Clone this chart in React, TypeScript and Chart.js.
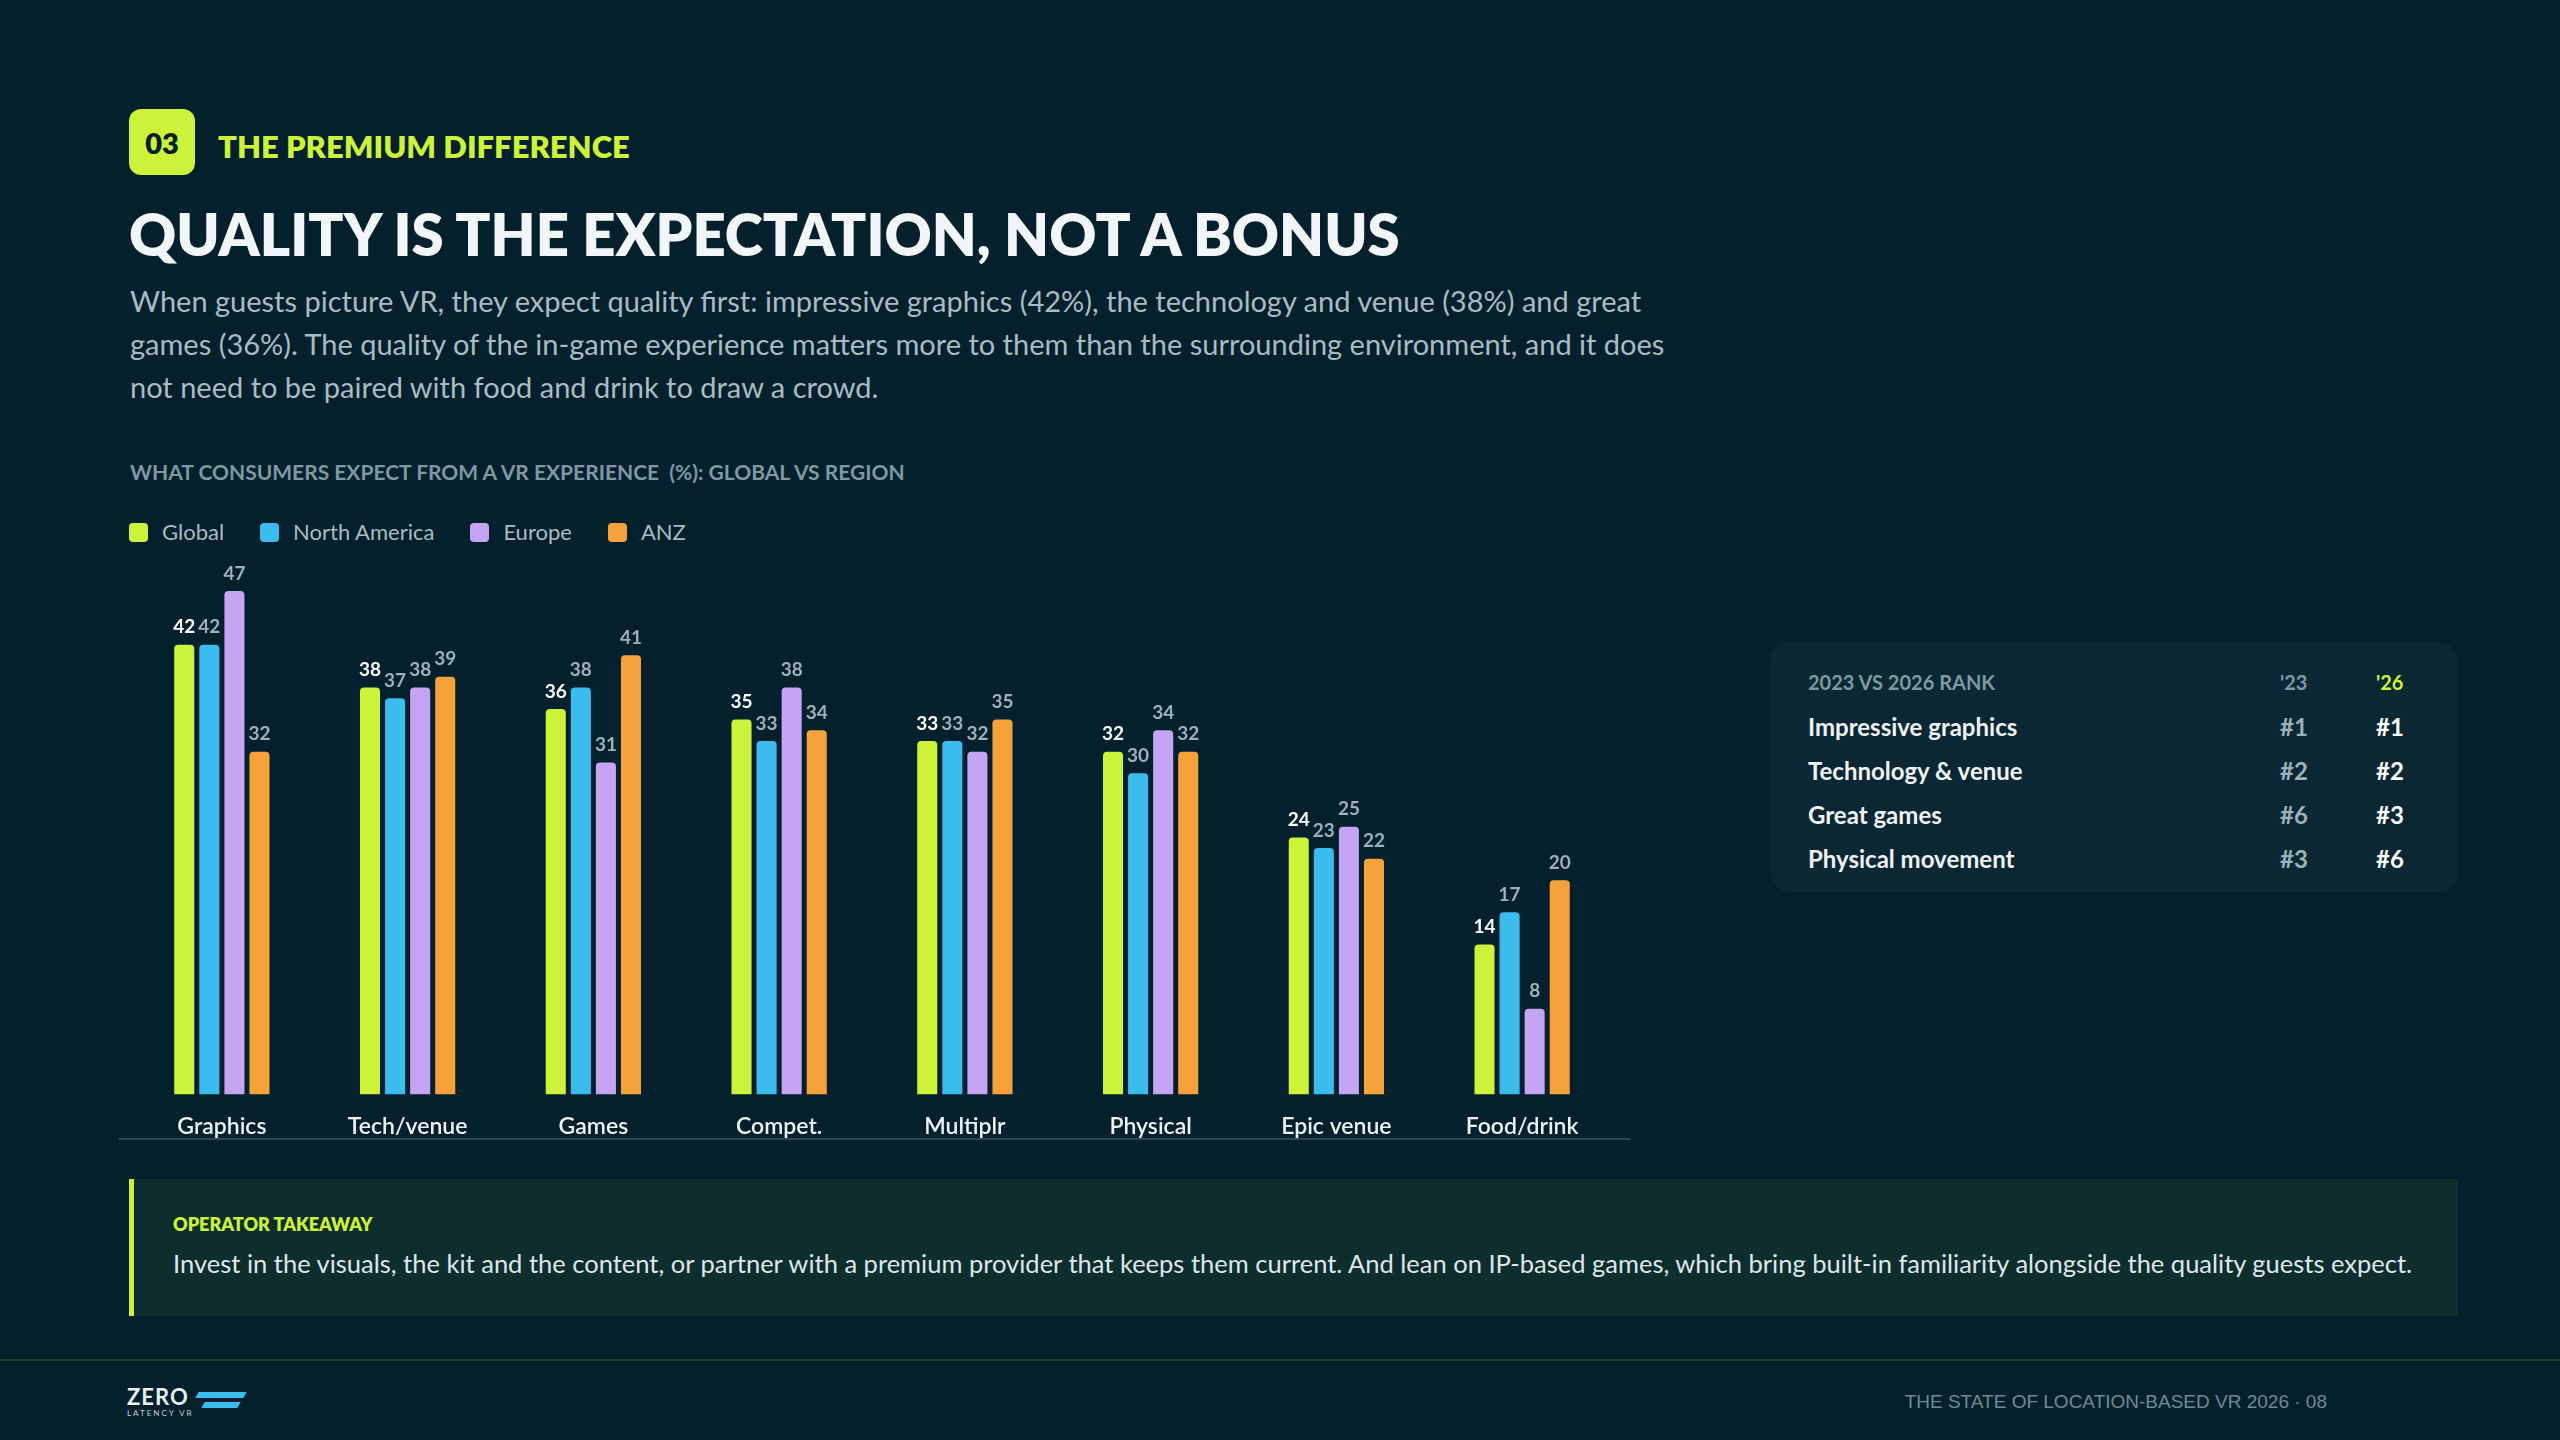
import React, { useEffect, useRef } from "react";
import { Chart, registerables } from "chart.js";
Chart.register(...registerables);

const categories = ["Graphics", "Tech/venue", "Games", "Compet.", "Multiplr", "Physical", "Epic venue", "Food/drink"];
const seriesNames = ["Global", "North America", "Europe", "ANZ"];
const globalVals = [42, 38, 36, 35, 33, 32, 24, 14];
const naVals = [42, 37, 38, 33, 33, 30, 23, 17];
const europeVals = [47, 38, 31, 38, 32, 34, 25, 8];
const anzVals = [32, 39, 41, 34, 35, 32, 22, 20];
const colors = ["#ccf23a", "#3bbcef", "#c5a4f4", "#f5a23b"];
const rankRows = ["Impressive graphics", "Technology & venue", "Great games", "Physical movement"];
const rank23 = ["#1", "#2", "#6", "#3"];
const rank26 = ["#1", "#2", "#3", "#6"];

const FONT = "Lato, 'Noto Sans', sans-serif";

const labelPlugin = {
  id: "vals",
  afterDatasetsDraw(chart: any) {
    const ctx = chart.ctx;
    ctx.save();
    ctx.font = `bold 19px ${FONT}`;
    ctx.textAlign = "center";
    ctx.textBaseline = "bottom";
    chart.data.datasets.forEach((ds: any, i: number) => {
      const meta = chart.getDatasetMeta(i);
      meta.data.forEach((bar: any, j: number) => {
        ctx.fillStyle = i === 0 ? "#ffffff" : "#9db1b9";
        ctx.fillText(String(ds.data[j]), bar.x, bar.y - 8);
      });
    });
    ctx.restore();
  },
};

export default function App() {
  const ref = useRef<HTMLCanvasElement>(null);
  useEffect(() => {
    const vals = [globalVals, naVals, europeVals, anzVals];
    const chart = new Chart(ref.current!, {
      type: "bar",
      data: {
        labels: categories,
        datasets: seriesNames.map((n, i) => ({
          label: n,
          data: vals[i],
          backgroundColor: colors[i],
          borderRadius: { topLeft: 4, topRight: 4 },
          borderSkipped: "bottom",
          barPercentage: 0.8,
          categoryPercentage: 0.54,
        })),
      },
      options: {
        animation: false,
        responsive: false,
        maintainAspectRatio: false,
        layout: { padding: { top: 29, left: 0, right: 0, bottom: 0 } },
        plugins: { legend: { display: false }, tooltip: { enabled: false } },
        scales: {
          x: {
            grid: { display: false },
            border: { display: false },
            ticks: { color: "#eef3f5", font: { family: FONT, size: 23, weight: 600 }, padding: 10 },
          },
          y: { display: false, min: 0, max: 50 },
        },
      },
      plugins: [labelPlugin],
    });
    return () => chart.destroy();
  }, []);

  const abs = (s: React.CSSProperties): React.CSSProperties => ({ position: "absolute", ...s });
  return (
    <div style={{ position: "absolute", left: 0, top: 0, width: 2560, height: 1440, background: "#03202c", fontFamily: FONT, overflow: "hidden" }}>
      <div style={abs({ left: 129, top: 109, width: 66, height: 66, background: "#ccf23a", borderRadius: 12, color: "#03202c", fontWeight: 800, fontSize: 29, display: "flex", alignItems: "center", justifyContent: "center" })}>03</div>
      <div style={abs({ left: 218, top: 125, color: "#ccf23a", fontWeight: 800, fontSize: 31, lineHeight: "42px" })}>THE PREMIUM DIFFERENCE</div>
      <div style={abs({ left: 129, top: 197, color: "#f2f6f8", fontWeight: 800, fontSize: 58, lineHeight: "74px" })}>QUALITY IS THE EXPECTATION, NOT A BONUS</div>
      <div style={abs({ left: 130, top: 279, whiteSpace: "nowrap", color: "#a9bcc3", fontSize: 29, lineHeight: "43px" })}>
        When guests picture VR, they expect quality first: impressive graphics (42%), the technology and venue (38%) and great<br />
        games (36%). The quality of the in-game experience matters more to them than the surrounding environment, and it does<br />
        not need to be paired with food and drink to draw a crowd.
      </div>
      <div style={abs({ left: 130, top: 459, color: "#7f98a1", fontWeight: 700, fontSize: 21, lineHeight: "26px" })}>WHAT CONSUMERS EXPECT FROM A VR EXPERIENCE&nbsp; (%): GLOBAL VS REGION</div>
      <div style={abs({ left: 129, top: 519, display: "flex", gap: 36, color: "#a9bcc3", fontSize: 22, lineHeight: "26px" })}>
        {seriesNames.map((n, i) => (
          <div key={n} style={{ display: "flex", alignItems: "center", gap: 14 }}>
            <span style={{ width: 19, height: 19, borderRadius: 4, background: colors[i], display: "inline-block" }} />
            {n}
          </div>
        ))}
      </div>
      <canvas ref={ref} width={1486} height={620} style={abs({ left: 129, top: 530, width: 1486, height: 620 })} />
      <div style={abs({ left: 119, top: 1138, width: 1512, height: 2, background: "#2d4650" })} />

      <div style={abs({ left: 1770, top: 642, width: 688, height: 250, background: "#0a2733", borderRadius: 20 })}>
        <div style={abs({ left: 38, top: 28, color: "#7f98a1", fontWeight: 700, fontSize: 20 })}>2023 VS 2026 RANK</div>
        <div style={abs({ left: 510, top: 28, color: "#7f98a1", fontWeight: 700, fontSize: 20 })}>'23</div>
        <div style={abs({ left: 606, top: 28, color: "#ccf23a", fontWeight: 700, fontSize: 20 })}>'26</div>
        {rankRows.map((r, i) => (
          <React.Fragment key={r}>
            <div style={abs({ left: 38, top: 70 + i * 44, color: "#eef3f5", fontWeight: 700, fontSize: 24 })}>{r}</div>
            <div style={abs({ left: 510, top: 70 + i * 44, color: "#9db1b9", fontWeight: 700, fontSize: 24 })}>{rank23[i]}</div>
            <div style={abs({ left: 606, top: 70 + i * 44, color: "#ffffff", fontWeight: 700, fontSize: 24 })}>{rank26[i]}</div>
          </React.Fragment>
        ))}
      </div>

      <div style={abs({ left: 129, top: 1179, width: 2329, height: 137, background: "#0e2d2d", borderLeft: "5px solid #ccf23a", boxSizing: "border-box" })}>
        <div style={abs({ left: 39, top: 34, color: "#ccf23a", fontWeight: 800, fontSize: 18 })}>OPERATOR TAKEAWAY</div>
        <div style={abs({ left: 39, top: 69, color: "#dfe7ea", fontSize: 25.5, whiteSpace: "nowrap" })}>Invest in the visuals, the kit and the content, or partner with a premium provider that keeps them current. And lean on IP-based games, which bring built-in familiarity alongside the quality guests expect.</div>
      </div>

      <div style={abs({ left: 0, top: 1359, width: 2560, height: 2, background: "#1d3a33" })} />
      <div style={abs({ left: 127, top: 1386, color: "#e9eef0", fontSize: 22, fontWeight: 700, letterSpacing: 1, lineHeight: "22px" })}>ZERO</div>
      <div style={abs({ left: 127, top: 1408, color: "#c9d3d7", fontSize: 8, letterSpacing: 2, lineHeight: "10px" })}>LATENCY VR</div>
      <div style={abs({ left: 197, top: 1392, width: 48, height: 6, background: "#3bbcef", transform: "skewX(-30deg)" })} />
      <div style={abs({ left: 203, top: 1402, width: 36, height: 6, background: "#3bbcef", transform: "skewX(-30deg)" })} />
      <div style={abs({ right: 233, top: 1391, color: "#6f8a94", fontSize: 19, fontFamily: "'Liberation Sans', sans-serif" })}>THE STATE OF LOCATION-BASED VR 2026 · 08</div>
    </div>
  );
}
